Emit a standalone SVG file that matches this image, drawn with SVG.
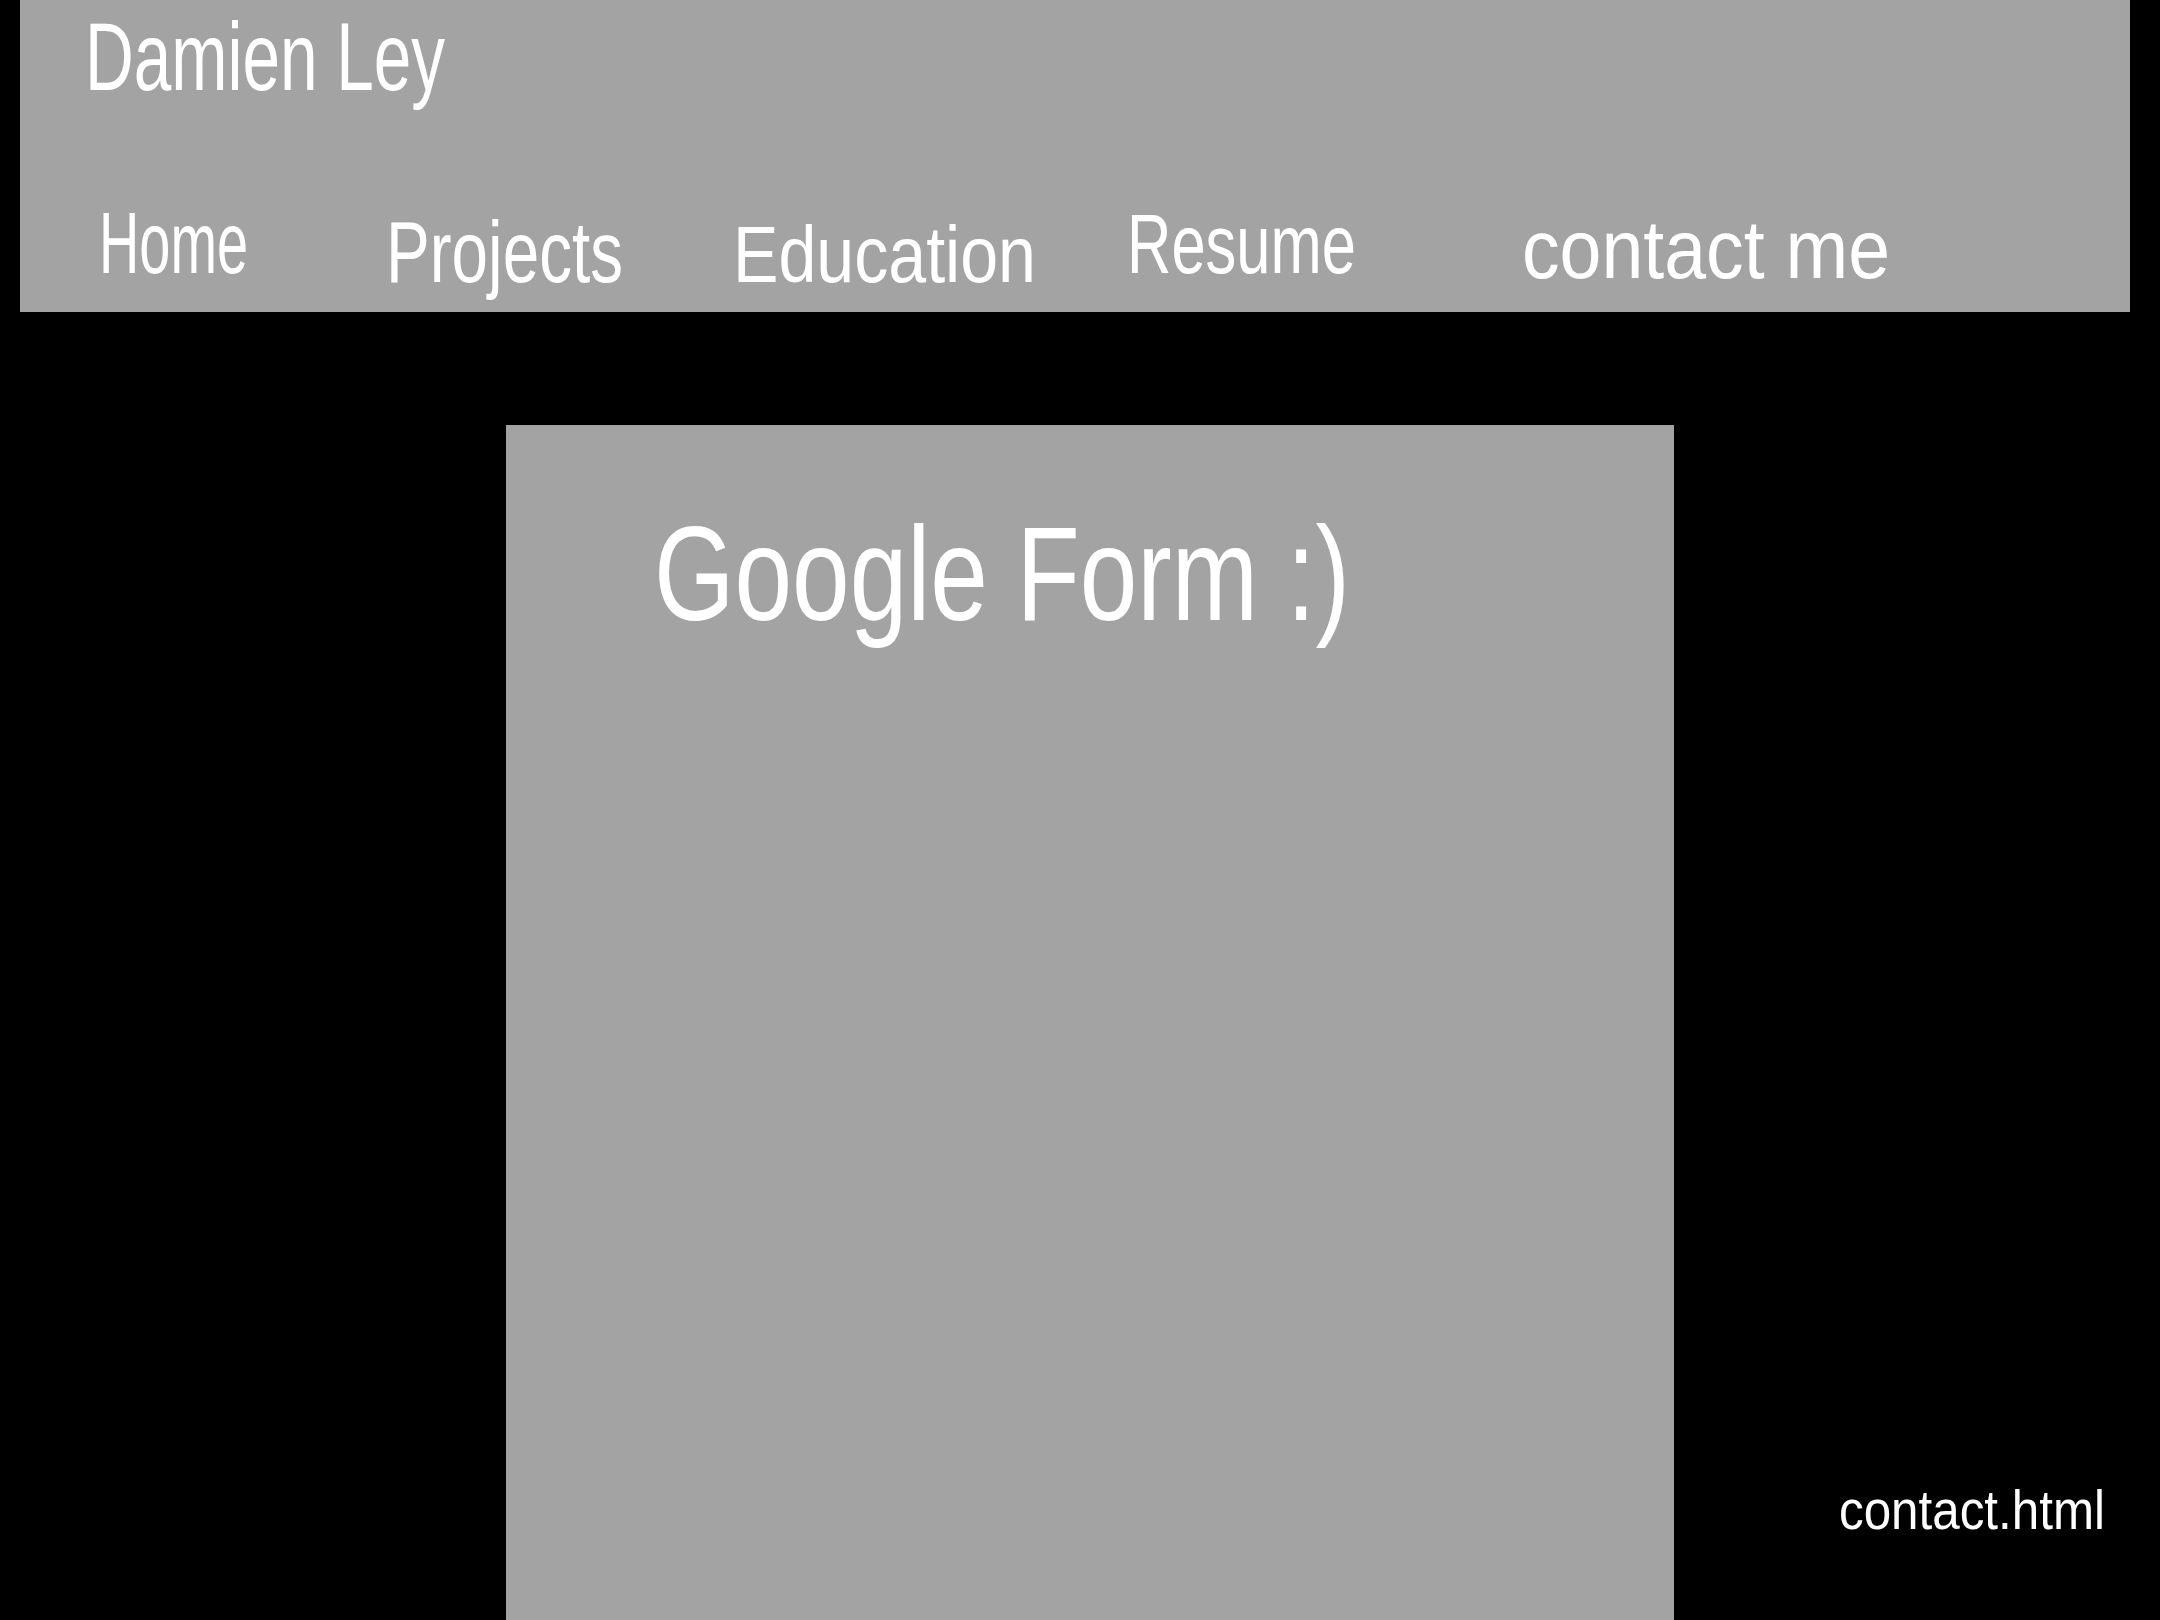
<svg xmlns="http://www.w3.org/2000/svg" width="2160" height="1620" viewBox="0 0 2160 1620">
  <style>
    .panel { fill: #a3a3a3; }
    .hand { fill: #ffffff; font-family: "Liberation Sans", "DejaVu Sans", sans-serif; font-weight: normal; }
  </style>
  <rect x="0" y="0" width="2160" height="1620" fill="#000000"/>
  <g id="header">
    <rect class="panel" x="20" y="0" width="2110" height="312"/>
    <text class="hand" x="85" y="90" font-size="96" textLength="360" lengthAdjust="spacingAndGlyphs">Damien Ley</text>
  </g>
  <g id="nav-home"><text class="hand" x="99" y="273" font-size="88" textLength="149" lengthAdjust="spacingAndGlyphs">Home</text></g>
  <g id="nav-projects"><text class="hand" x="386" y="282" font-size="88" textLength="237" lengthAdjust="spacingAndGlyphs">Projects</text></g>
  <g id="nav-education"><text class="hand" x="733" y="282" font-size="80" textLength="303" lengthAdjust="spacingAndGlyphs">Education</text></g>
  <g id="nav-resume"><text class="hand" x="1127" y="273" font-size="84" textLength="229" lengthAdjust="spacingAndGlyphs">Resume</text></g>
  <g id="nav-contact"><text class="hand" x="1522" y="278" font-size="84" textLength="368" lengthAdjust="spacingAndGlyphs">contact me</text></g>
  <g id="content">
    <rect class="panel" x="506" y="425" width="1168" height="1195"/>
    <text class="hand" x="654" y="620" font-size="134" textLength="696" lengthAdjust="spacingAndGlyphs">Google Form :)</text>
  </g>
  <g id="page-label"><text class="hand" x="1839" y="1529" font-size="56" textLength="266" lengthAdjust="spacingAndGlyphs">contact.html</text></g>
  <g id="connectors"/>
</svg>
